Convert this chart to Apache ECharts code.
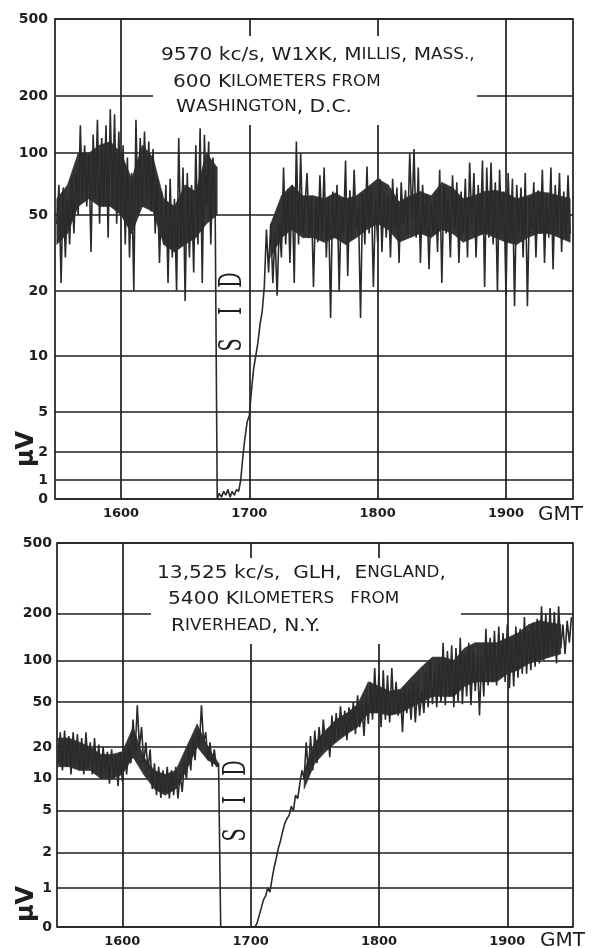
<!DOCTYPE html>
<html>
<head>
<meta charset="utf-8">
<script src="https://cdn.jsdelivr.net/npm/echarts@6/dist/echarts.min.js"></script>
<style>
  html, body { margin: 0; padding: 0; background: #fff; }
  #chart { width: 603px; height: 948px; }
</style>
</head>
<body>
<div id="chart"></div>
<script>
// µV scale of the recorder (not logarithmic near zero)
const uvTicks = [0, 1, 2, 5, 10, 20, 50, 100, 200, 500];
const hourTicks = [16, 17, 18, 19];

// pen readings, one a minute from 1530 GMT
const startHour = 15.5;

// 9570 kc/s, W1XK
const w1xkUv = [
  45, 70, 22, 68, 30, 60, 35, 75, 40, 80,
  50, 140, 60, 110, 55, 100, 32, 125, 60, 150,
  45, 120, 55, 140, 38, 170, 55, 160, 45, 130,
  50, 110, 35, 95, 30, 80, 20, 150, 50, 120,
  55, 130, 60, 115, 52, 105, 40, 75, 28, 65,
  35, 70, 22, 75, 30, 60, 20, 120, 35, 85,
  18, 80, 30, 70, 25, 110, 35, 135, 22, 125,
  55, 115, 35, 95, 60, 0,
  0.3, 0.1, 0.4, 0.2, 0.5, 0.1, 0.4, 0.2, 0.5,
  0.4, 1.0, 1.8, 2.8, 4.0, 4.6, 6.5, 8.5, 10, 11.5, 14, 16,
  21, 42, 25, 45, 22, 40, 19, 45, 30, 85, 35, 67, 28, 70, 22, 115, 35, 100, 40,
  55, 80, 38, 62, 21, 58, 36, 78, 40, 85,
  30, 60, 15, 65, 38, 70, 20, 58, 40, 92,
  24, 66, 37, 83, 42, 55, 15, 64, 35, 86,
  40, 68, 21, 60, 36, 75, 32, 64, 38, 62,
  30, 75, 42, 68, 28, 72, 45, 66, 40, 100,
  48, 105, 38, 85, 28, 70, 42, 63, 26, 58,
  40, 64, 32, 83, 22, 70, 40, 60, 30, 78,
  42, 72, 28, 65, 40, 75, 30, 90, 45, 80,
  30, 70, 40, 92, 21, 85, 38, 90, 35, 72,
  20, 83, 40, 65, 19, 80, 36, 75, 17, 70,
  40, 68, 30, 80, 17, 60, 42, 72, 30, 66,
  40, 83, 28, 62, 38, 85, 26, 70, 40, 80,
  32, 65, 38, 78, 40
];

// 13,525 kc/s, GLH
const glhUv = [
  14, 27, 12, 28, 13, 25, 11, 27, 14, 26,
  12, 24, 11, 27, 13, 22, 11, 24, 12, 21,
  10, 20, 12, 18, 9, 19, 10, 17, 8.5, 18,
  9.5, 19, 11, 20, 14, 35, 18, 47, 20, 30,
  14, 22, 12, 19, 8, 14, 7, 13, 6.6, 12,
  7.5, 13, 6.5, 12, 7, 13, 6.5, 11, 7.5, 14,
  10, 20, 12, 24, 15, 28, 20, 47, 22, 27,
  15, 22, 13, 19, 13, 14,
  0, 0, 0, 0, 0, 0, 0, 0, 0, 0, 0, 0, 0, 0, 0, 0, 0,
  0.1, 0.3, 0.5, 0.7, 0.8, 1.0, 0.9, 1.2, 1.5, 1.8,
  2.2, 2.6, 3.2, 3.8, 4.2, 4.5, 5.5, 5, 7, 6.5,
  9, 12, 10, 22, 11,
  25, 12, 28, 14, 30, 18, 35, 20, 29, 16,
  38, 22, 40, 24, 46, 26, 42, 23, 45, 28,
  50, 26, 56, 30, 48, 25, 55, 32, 70, 35,
  88, 40, 80, 30, 85, 35, 78, 33, 88, 40,
  70, 38, 60, 27, 65, 40, 62, 35, 70, 33,
  65, 38, 60, 40, 82, 45, 100, 48, 85, 45,
  95, 50, 130, 47, 115, 55, 125, 45, 120, 50,
  140, 48, 110, 55, 130, 47, 115, 60, 105, 38,
  110, 55, 160, 66, 140, 70, 155, 66, 165, 75,
  150, 70, 170, 63, 140, 65, 165, 75, 160, 80,
  190, 80, 155, 85, 175, 90, 185, 95, 220, 100,
  200, 105, 215, 110, 205, 95, 220, 120, 170, 110,
  180, 130, 190
];

// dense core of the pen trace, read every 5 minutes from 1530 (null = no band)
const w1xkCoreLo = [
  35, 40, 55, 60, 55, 55, 50, 40, 55, 52, 35, 32, 35, 38, 45, 50,
  null, null, null, null,
  30, 38, 42, 38, 38, 36, 38, 35, 38, 42, 45, 42, 36, 38, 40, 38,
  42, 40, 36, 38, 40, 38, 36, 35, 38, 40, 40, 38, 36
];
const w1xkCoreHi = [
  60, 70, 100, 100, 110, 115, 100, 75, 110, 95, 60, 55, 70, 65, 100, 85,
  null, null, null, null,
  45, 62, 70, 62, 62, 60, 64, 60, 62, 68, 75, 70, 58, 62, 65, 62,
  72, 68, 60, 62, 65, 66, 64, 60, 62, 65, 64, 62, 60
];
const glhCoreLo = [
  13, 13, 12, 12, 10, 10, 11, 16, 11, 8, 7, 8, 12, 20, 15, 13,
  null, null, null, null, null, null, null,
  8, 14, 18, 22, 26, 30, 40, 40, 38, 40, 45, 50, 55,
  55, 55, 65, 70, 70, 70, 80, 85, 95, 100, 105, 110
];
const glhCoreHi = [
  24, 24, 22, 20, 17, 17, 18, 30, 16, 12, 11, 12, 20, 32, 20, 14,
  null, null, null, null, null, null, null,
  12, 22, 28, 35, 40, 48, 70, 65, 60, 62, 75, 90, 105,
  105, 100, 120, 130, 130, 130, 140, 150, 170, 180, 175, 170
];

// height of each uvTicks line above the plot bottom, px, as printed on each panel
const topScale = [0, 19, 47, 87, 143, 208, 284, 346, 403, 480];
const bottomScale = [0, 39, 75, 117, 149, 181, 226, 268, 315, 386];

function toPos(v, scale) {
  for (let i = 0; i < uvTicks.length - 1; i++) {
    const a = uvTicks[i], b = uvTicks[i + 1];
    if (v <= b || i === uvTicks.length - 2) {
      const f = a === 0 ? v / b : Math.log(v / a) / Math.log(b / a);
      return scale[i] + f * (scale[i + 1] - scale[i]);
    }
  }
}

function buildData(values, scale) {
  return values.map((v, i) => [startHour + i / 60, toPos(v, scale)]);
}

// one quad per 5-minute step of the core band: [x0, lo0, hi0, x1, lo1, hi1]
function bandSegments(lo, hi, scale) {
  const out = [];
  for (let i = 0; i < lo.length - 1; i++) {
    if (lo[i] == null || lo[i + 1] == null) continue;
    out.push([
      startHour + i / 12, toPos(lo[i], scale), toPos(hi[i], scale),
      startHour + (i + 1) / 12, toPos(lo[i + 1], scale), toPos(hi[i + 1], scale)
    ]);
  }
  return out;
}

const ink = '#1e1e1e';
const pen = '#2a2a2a';
const chart = echarts.init(document.getElementById('chart'));

function xAxisFor(gridIndex, min, max) {
  return {
    type: 'value', gridIndex, min, max,
    axisLine: { show: false },
    axisTick: { show: false, customValues: hourTicks },
    axisLabel: {
      customValues: hourTicks, margin: 8,
      formatter: v => String(Math.round(v * 100)),
      fontFamily: 'DejaVu Sans', fontWeight: 'bold', fontSize: 13, color: ink
    },
    splitLine: { show: true, lineStyle: { color: ink, width: 1.7 } }
  };
}

function yAxisFor(gridIndex, scale, margin) {
  return {
    type: 'value', gridIndex, min: 0, max: scale[scale.length - 1],
    axisLine: { show: false },
    axisTick: { show: false, customValues: scale },
    axisLabel: {
      customValues: scale, margin,
      formatter: v => String(uvTicks[scale.indexOf(Math.round(v))]),
      fontFamily: 'DejaVu Sans', fontWeight: 'bold', fontSize: 14, color: ink
    },
    splitLine: { show: true, lineStyle: { color: ink, width: 1.7 } }
  };
}

const big = { fontFamily: 'DejaVu Sans', fontSize: 18, fill: ink };
const small = { fontFamily: 'DejaVu Sans', fontSize: 15, fill: ink };

function label(x, y, text) {
  return {
    type: 'text', x, y, z: 5, scaleX: 1.12,
    style: { text, rich: { b: big, s: small }, fill: ink, verticalAlign: 'middle', align: 'left' }
  };
}

function sidLetter(x, y, ch) {
  return {
    type: 'text', x, y, z: 5, rotation: Math.PI / 2, scaleX: 0.62,
    style: {
      text: ch, fontFamily: 'DejaVu Serif', fontSize: 31, fill: ink,
      align: 'center', verticalAlign: 'middle'
    }
  };
}

function plain(x, y, text, size, weight, rotation) {
  return {
    type: 'text', x, y, z: 5, rotation: rotation || 0,
    style: {
      text, fontFamily: 'DejaVu Sans', fontSize: size, fontWeight: weight, fill: ink,
      align: rotation ? 'center' : 'left', verticalAlign: 'middle'
    }
  };
}

function trace(axis, values, scale) {
  return {
    type: 'line', xAxisIndex: axis, yAxisIndex: axis, z: 4,
    data: buildData(values, scale), showSymbol: false, symbol: 'none',
    lineStyle: { color: pen, width: 1.6 }
  };
}

function core(axis, lo, hi, scale) {
  return {
    type: 'custom', xAxisIndex: axis, yAxisIndex: axis, z: 3, clip: true,
    data: bandSegments(lo, hi, scale),
    renderItem(params, api) {
      const a = api.coord([api.value(0), api.value(1)]);
      const b = api.coord([api.value(3), api.value(4)]);
      const c = api.coord([api.value(3), api.value(5)]);
      const d = api.coord([api.value(0), api.value(2)]);
      return {
        type: 'polygon',
        shape: { points: [a, b, c, d] },
        style: { fill: '#333', stroke: '#333', lineWidth: 0.6 }
      };
    }
  };
}

chart.setOption({
  animation: false,
  backgroundColor: '#fff',
  grid: [
    { left: 55, top: 19, width: 518, height: 480, show: true, borderColor: ink, borderWidth: 1.7 },
    { left: 57, top: 543, width: 516, height: 386, show: true, borderColor: ink, borderWidth: 1.7 }
  ],
  xAxis: [xAxisFor(0, 15.486, 19.522), xAxisFor(1, 15.491, 19.512)],
  yAxis: [yAxisFor(0, topScale, 7), yAxisFor(1, bottomScale, 5)],
  graphic: [
    // blank the grid behind the station captions
    { type: 'rect', z: 1, shape: { x: 153, y: 36, width: 324, height: 89 }, style: { fill: '#fff' } },
    { type: 'rect', z: 1, shape: { x: 151, y: 558, width: 310, height: 86 }, style: { fill: '#fff' } },
    label(161, 55, '{b|9570 kc/s, W1XK, M}{s|ILLIS}{b|, M}{s|ASS.,}'),
    label(173, 82, '{b|600 K}{s|ILOMETERS FROM}'),
    label(176, 107, '{b|W}{s|ASHINGTON}{b|, D.C.}'),
    label(157, 573, '{b|13,525 kc/s,  GLH,  E}{s|NGLAND}{b|,}'),
    label(168, 599, '{b|5400 K}{s|ILOMETERS   FROM}'),
    label(171, 626, '{b|R}{s|IVERHEAD}{b|, N.Y.}'),
    sidLetter(233, 280, 'D'), sidLetter(233, 311, 'I'), sidLetter(233, 345, 'S'),
    sidLetter(237, 768, 'D'), sidLetter(237, 800, 'I'), sidLetter(237, 835, 'S'),
    plain(27, 449, 'µV', 24, 'bold', Math.PI / 2),
    plain(27, 904, 'µV', 24, 'bold', Math.PI / 2),
    plain(538, 515, 'GMT', 20, 'normal'),
    plain(540, 941, 'GMT', 20, 'normal')
  ],
  series: [
    core(0, w1xkCoreLo, w1xkCoreHi, topScale),
    core(1, glhCoreLo, glhCoreHi, bottomScale),
    trace(0, w1xkUv, topScale),
    trace(1, glhUv, bottomScale)
  ]
});
</script>
</body>
</html>
